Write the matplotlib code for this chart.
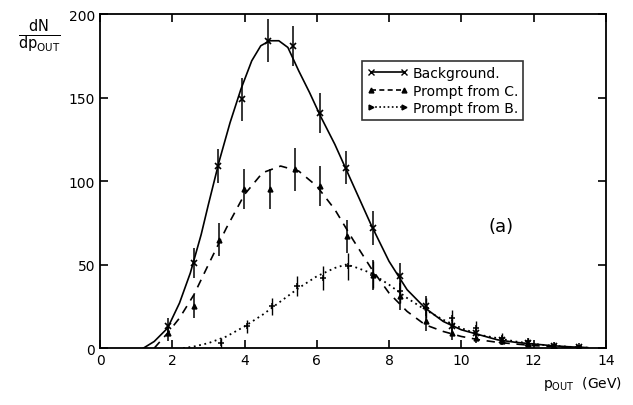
import matplotlib
matplotlib.use("Agg")
import matplotlib.pyplot as plt

# binned data points
bg_x = [1.87, 2.6, 3.26, 3.94, 4.64, 5.35, 6.09, 6.81, 7.57, 8.31, 9.03, 9.74, 10.4, 11.14, 11.86, 12.56, 13.26]
bg_y = [13, 51, 109, 149, 184, 181, 141, 108, 72, 43, 25, 13, 9, 5, 3, 1.5, 0.5]
bg_err = [5, 9, 10, 13, 13, 12, 12, 10, 10, 8, 6, 4, 3, 2, 1.5, 1, 0.5]

pc_x = [1.87, 2.6, 3.3, 3.99, 4.71, 5.4, 6.09, 6.83, 7.57, 8.31, 9.03, 9.74, 10.4, 11.14, 11.86, 12.56]
pc_y = [9, 25, 65, 95, 95, 107, 97, 67, 44, 31, 16, 9, 6, 4, 2.5, 1]
pc_err = [5, 7, 10, 12, 12, 13, 12, 10, 9, 8, 6, 4, 3, 2, 1.5, 1]

pb_x = [3.35, 4.06, 4.76, 5.45, 6.16, 6.86, 7.57, 8.31, 9.03, 9.74, 10.4, 11.14, 11.86, 12.56, 13.26]
pb_y = [3, 13, 25, 37, 42, 49, 44, 34, 24, 18, 12, 6, 4, 2, 1]
pb_err = [3, 4, 5, 6, 7, 8, 8, 7, 6, 5, 4, 3, 2, 1.5, 1]

# fitted curves
bg_cx = [1.2, 1.5, 1.87, 2.2, 2.5, 2.8, 3.0, 3.3, 3.6, 3.9, 4.2, 4.45, 4.7, 4.95, 5.2, 5.5, 5.8, 6.1, 6.5, 7.0, 7.5, 8.0, 8.5, 9.0, 9.5, 10.0, 10.5, 11.0, 11.5, 12.0, 12.5, 13.0, 13.5]
bg_cy = [0, 4, 12, 27, 45, 68, 86, 112, 135, 155, 172, 181, 184, 184, 180, 166, 153, 139, 122, 98, 74, 52, 35, 24, 16, 11, 8, 5, 3.5, 2.5, 1.5, 0.8, 0.3]

pc_cx = [1.5, 1.87, 2.2, 2.6, 3.0, 3.5, 4.0, 4.5, 5.0, 5.5, 6.0, 6.5, 7.0, 7.5, 8.0, 8.5, 9.0, 9.5, 10.0, 10.5, 11.0, 11.5, 12.0, 12.5, 13.0, 13.5]
pc_cy = [0, 9, 18, 32, 50, 72, 92, 105, 109, 106, 97, 83, 65, 48, 33, 22, 14, 10, 7, 5, 3.5, 2.5, 1.5, 1, 0.5, 0.2]

pb_cx = [2.3, 2.6, 3.0, 3.5, 4.0, 4.5, 5.0, 5.5, 6.0, 6.5, 6.8, 7.0, 7.5, 8.0, 8.5, 9.0, 9.5, 10.0, 10.5, 11.0, 11.5, 12.0, 12.5, 13.0, 13.5]
pb_cy = [0, 1, 3, 7, 13, 20, 28, 36, 43, 48, 50, 49, 45, 38, 30, 23, 17, 12, 8, 6, 4, 2.5, 1.5, 0.8, 0.3]

fig = plt.figure(figsize=(6.33, 4.06), dpi=100)
ax = fig.add_axes([0.158, 0.14, 0.799, 0.823])

ax.plot(bg_cx, bg_cy, color="black", lw=1.2, ls="-")
ax.plot(pc_cx, pc_cy, color="black", lw=1.2, ls=(0, (5, 4)))
ax.plot(pb_cx, pb_cy, color="black", lw=1.3, ls=(0, (1, 2)))

ax.errorbar(bg_x, bg_y, yerr=bg_err, fmt="x", color="black", ms=4, mew=1.2, elinewidth=1.1, capsize=0)
ax.errorbar(pc_x, pc_y, yerr=pc_err, fmt="^", color="black", ms=3.5, elinewidth=1.1, capsize=0)
ax.errorbar(pb_x, pb_y, yerr=pb_err, fmt="+", color="black", ms=4, mew=1.1, elinewidth=1.0, capsize=0)

# legend handles: line with a marker at each end
h1, = ax.plot([], [], color="black", lw=1.2, ls="-", marker="x", ms=4)
h2, = ax.plot([], [], color="black", lw=1.2, ls=(0, (3, 2)), marker="^", ms=3.5)
h3, = ax.plot([], [], color="black", lw=1.2, ls=(0, (1, 1.5)), marker=">", ms=3.5)
leg = ax.legend([h1, h2, h3], ["Background.", "Prompt from C.", "Prompt from B."],
                numpoints=2, loc="upper left", bbox_to_anchor=(0.518, 0.858),
                borderaxespad=0, fontsize=10, frameon=True, fancybox=False,
                handlelength=3.0, handletextpad=0.3, borderpad=0.35, labelspacing=0.25)
leg.get_frame().set_edgecolor("black")
leg.get_frame().set_linewidth(1.2)

ax.text(11.1, 73, "(a)", fontsize=13, ha="center", va="center")

ax.set_xlim(0, 14)
ax.set_ylim(0, 200)
ax.set_xticks([0, 2, 4, 6, 8, 10, 12, 14])
ax.set_yticks([0, 50, 100, 150, 200])
ax.tick_params(direction="in", length=6, width=1.2, top=True, right=True, labelsize=10)
for s in ax.spines.values():
    s.set_linewidth(1.3)

fig.text(0.062, 0.91, r"$\frac{\mathrm{dN}}{\mathrm{dp_{OUT}}}$", fontsize=15, ha="center", va="center")
fig.text(0.92, 0.055, r"$\mathrm{p_{OUT}}$  (GeV)", fontsize=10, ha="center", va="center")

fig.savefig("out.png", dpi=100)
